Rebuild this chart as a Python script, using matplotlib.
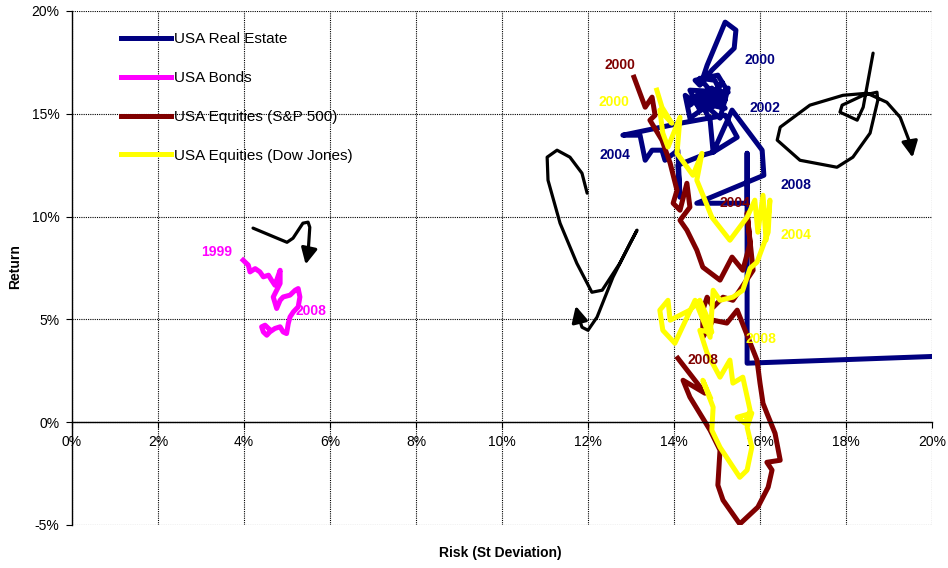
import matplotlib.pyplot as plt
from matplotlib.ticker import FuncFormatter

plt.rcParams['font.family'] = ['Liberation Sans', 'DejaVu Sans']

# risk / return paths in percent
real_estate_risk = [14.67, 14.77, 15.19, 15.44, 15.40, 14.88, 14.60, 14.49, 15.02, 15.26,
                    14.37, 14.60, 15.12, 14.84, 14.33, 15.19, 14.60, 14.95, 15.12, 14.53,
                    14.37, 14.88, 15.19, 14.72, 14.26, 14.37, 14.95, 15.26, 15.07, 14.60,
                    14.84, 14.91, 15.47, 15.19, 14.14, 12.81, 13.21, 13.33, 13.49, 13.72,
                    13.79, 14.09, 14.14, 14.09, 14.67, 14.91, 15.35, 16.05, 16.09, 14.53,
                    15.70, 15.70, 15.70, 24.0]
real_estate_ret = [16.73, 17.36, 19.46, 19.07, 18.19, 17.12, 16.39, 16.63, 16.88, 16.05,
                   16.15, 15.18, 16.54, 15.66, 15.66, 15.27, 16.73, 16.63, 15.90, 15.90,
                   15.42, 16.25, 15.66, 15.18, 15.90, 14.79, 15.66, 16.25, 14.79, 15.66,
                   14.69, 13.13, 13.86, 14.93, 14.54, 13.96, 13.96, 12.74, 13.23, 13.23,
                   12.74, 13.23, 10.94, 12.50, 12.99, 13.13, 15.18, 13.23, 12.01, 10.65,
                   10.65, 13.08, 2.87, 3.50]

bonds_risk = [3.98, 4.10, 4.14, 4.26, 4.37, 4.45, 4.57, 4.64, 4.72, 4.76, 4.84, 4.84,
              4.76, 4.68, 4.76, 4.84, 4.91, 5.07, 5.19, 5.26, 5.30, 5.26, 5.15, 5.07,
              5.03, 4.99, 4.91, 4.84, 4.72, 4.60, 4.53, 4.45, 4.41, 4.49, 4.57]
bonds_ret = [7.88, 7.64, 7.31, 7.47, 7.31, 7.07, 7.15, 6.91, 6.66, 6.91, 7.39, 6.75,
             6.42, 6.09, 5.53, 5.93, 6.09, 6.18, 6.42, 6.50, 6.09, 5.61, 5.37, 5.12,
             4.80, 4.31, 4.39, 4.64, 4.56, 4.39, 4.23, 4.39, 4.64, 4.72, 4.56]

sp500_risk = [13.07, 13.33, 13.49, 13.56, 13.44, 13.72, 13.91, 14.07, 13.98, 14.14,
              14.30, 14.37, 14.14, 14.30, 14.53, 14.67, 15.07, 15.35, 15.60, 15.77,
              15.70, 15.84, 15.53, 15.37, 15.14, 14.91, 14.77, 14.67, 14.67, 14.91,
              15.23, 15.47, 15.93, 16.00, 16.07, 16.16, 16.35, 16.47, 16.16, 16.28,
              16.19, 15.95, 15.53, 15.14, 15.02, 15.07, 14.84, 14.37, 14.21, 14.72,
              14.09]
sp500_ret = [16.78, 15.32, 15.81, 14.93, 14.69, 13.72, 12.60, 11.28, 10.65, 10.31,
             11.62, 10.46, 9.82, 9.34, 8.37, 7.54, 6.91, 8.03, 7.39, 8.71,
             10.17, 7.39, 6.42, 5.93, 6.08, 5.59, 6.08, 5.45, 4.13, 4.96,
             4.82, 5.45, 3.02, 1.90, 0.92, 0.44, -0.54, -1.85, -1.95, -2.33,
             -3.16, -4.13, -4.95, -3.79, -3.06, -1.36, -0.39, 1.22, 2.04, 1.41,
             3.11]

dow_risk = [13.60, 13.72, 13.95, 13.67, 13.74, 13.86, 14.14, 14.07, 14.44, 14.65,
            14.53, 14.72, 14.88, 15.30, 15.70, 15.88, 15.95, 16.07, 16.14, 16.23,
            16.19, 15.93, 15.77, 15.60, 15.37, 15.07, 14.91, 14.84, 14.49, 14.02,
            13.74, 13.67, 13.86, 13.91, 14.37, 14.60, 14.77, 14.88, 14.60, 14.77,
            15.07, 15.30, 15.37, 15.60, 15.77, 15.65, 15.47, 15.81, 15.70, 15.81,
            15.70, 15.53, 15.07, 14.88, 14.91, 14.67, 14.84]
dow_ret = [16.15, 15.32, 14.54, 15.18, 14.06, 13.38, 14.83, 13.08, 12.01, 13.08,
           11.77, 10.80, 9.97, 8.85, 9.97, 10.80, 9.24, 11.04, 8.85, 10.80,
           9.24, 7.78, 7.49, 6.42, 6.08, 5.93, 6.42, 4.13, 5.93, 3.84,
           4.47, 5.45, 5.93, 4.96, 5.45, 5.93, 5.11, 4.38, 4.47, 3.36,
           2.19, 3.02, 1.90, 2.19, 0.58, -0.05, 0.24, 0.44, -0.24, -1.22,
           -2.33, -2.68, -1.22, -0.39, 0.73, 2.04, 1.22]

# year labels: (text, risk, return, colour)
year_labels = [
    ('2000', 16.00, 17.61, '#000080'), ('2002', 16.12, 15.27, '#000080'),
    ('2004', 12.63, 12.99, '#000080'), ('2008', 16.84, 11.53, '#000080'),
    ('2000', 12.74, 17.36, '#800000'), ('2004', 15.42, 10.65, '#800000'),
    ('2008', 14.67, 3.02, '#800000'),
    ('2000', 12.60, 15.56, '#FFFF00'), ('2004', 16.84, 9.10, '#FFFF00'),
    ('2008', 16.02, 4.04, '#FFFF00'),
    ('1999', 3.37, 8.27, '#FF00FF'), ('2008', 5.56, 5.40, '#FF00FF'),
]

# hand drawn arrows (risk, return), last pair is the arrow tip
arrow_bonds_x = [4.21, 4.77, 5.00, 5.14, 5.37, 5.49, 5.53, 5.49, 5.42]
arrow_bonds_y = [9.44, 8.95, 8.75, 8.95, 9.68, 9.73, 9.48, 8.22, 7.54]
arrow_mid_x = [11.98, 11.86, 11.58, 11.28, 11.05, 11.07, 11.35, 11.74, 12.09, 12.33,
               12.74, 13.14, 12.98, 12.58, 12.21, 12.00, 11.86, 11.77, 11.70]
arrow_mid_y = [11.14, 12.11, 12.89, 13.23, 12.89, 11.77, 9.68, 7.73, 6.32, 6.42,
               7.73, 9.34, 8.71, 7.05, 5.11, 4.47, 4.62, 5.20, 5.79]
arrow_right_x = [18.63, 18.40, 18.26, 17.86, 17.91, 18.40, 18.72, 18.74, 18.56, 18.16,
                 17.79, 16.93, 16.40, 16.47, 17.16, 17.93, 18.49, 18.95, 19.26, 19.49, 19.56]
arrow_right_y = [17.95, 15.32, 14.69, 15.08, 15.42, 15.90, 16.05, 15.66, 14.06, 12.89,
                 12.40, 12.74, 13.72, 14.35, 15.42, 15.90, 16.00, 15.56, 14.83, 13.57, 12.74]

fig = plt.figure(figsize=(9.48, 5.68), dpi=100)
ax = fig.add_axes([72 / 948, 1 - 525 / 568, 860 / 948, 514 / 568])

lw = 3.6
ax.plot(real_estate_risk, real_estate_ret, color='#000080', lw=lw, label='USA Real Estate',
        solid_joinstyle='round')
ax.plot(bonds_risk, bonds_ret, color='#FF00FF', lw=lw, label='USA Bonds', solid_joinstyle='round')
ax.plot(sp500_risk, sp500_ret, color='#800000', lw=lw, label='USA Equities (S&P 500)',
        solid_joinstyle='round')
ax.plot(dow_risk, dow_ret, color='#FFFF00', lw=lw, label='USA Equities (Dow Jones)',
        solid_joinstyle='round')

for txt, x, y, c in year_labels:
    ax.text(x, y, txt, color=c, fontsize=10, fontweight='bold', ha='center', va='center',
            zorder=5)

for xs, ys in [(arrow_bonds_x, arrow_bonds_y), (arrow_mid_x, arrow_mid_y),
               (arrow_right_x, arrow_right_y)]:
    ax.plot(xs[:-1], ys[:-1], color='black', lw=2.3, solid_joinstyle='round',
            solid_capstyle='round', zorder=6)
    ax.annotate('', xy=(xs[-1], ys[-1]), xytext=(xs[-2], ys[-2]),
                arrowprops=dict(arrowstyle='-|>', color='black', lw=2.3, mutation_scale=24),
                zorder=6)

ax.set_xlim(0, 20)
ax.set_ylim(-5, 20)
ax.set_xticks(range(0, 21, 2))
ax.set_yticks(range(-5, 21, 5))
ax.xaxis.set_major_formatter(FuncFormatter(lambda v, p: f'{v:.0f}%'))
ax.yaxis.set_major_formatter(FuncFormatter(lambda v, p: f'{v:.0f}%'))
ax.grid(True, color='black', linestyle=(0, (1, 1)), lw=0.8)
ax.set_axisbelow(True)

for s in ['top', 'right']:
    ax.spines[s].set_visible(False)
ax.spines['bottom'].set_position(('data', 0))
ax.spines['bottom'].set_linewidth(1.0)
ax.spines['left'].set_linewidth(1.0)
ax.tick_params(axis='both', length=4, width=0.8, labelsize=10, pad=5)

ax.legend(loc='upper left', bbox_to_anchor=(0.057, 0.959), frameon=False, fontsize=11,
          handlelength=3.25, handletextpad=0.2, labelspacing=1.63, borderpad=0,
          borderaxespad=0)

fig.text(500 / 948, 1 - 553 / 568, 'Risk (St Deviation)', ha='center', va='center',
         fontsize=10, fontweight='bold')
fig.text(15 / 948, 1 - 267 / 568, 'Return', ha='center', va='center', rotation=90,
         fontsize=10, fontweight='bold')

fig.savefig('out.png', dpi=100)
